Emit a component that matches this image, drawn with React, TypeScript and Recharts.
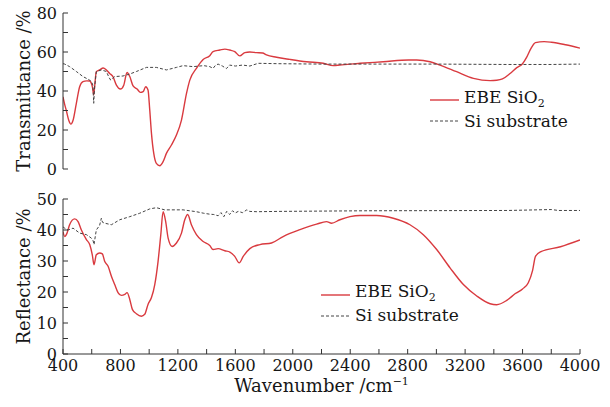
import React from 'react';
import { LineChart, Line, XAxis, YAxis, Legend } from 'recharts';

const FONT = '"DejaVu Serif", "Liberation Serif", serif';
const RED = '#d93a3f';
const GRAY = '#444';
const AXIS = '#333';
const TEXT = '#161616';

// ---- Data: Transmittance panel ----
const tWaveEBE = [400,412,423,440,455,470,493,516,539,565,586,597,605,614,620,632,655,680,702,725,748,772,800,823,846,865,888,916,939,958,976,992,1004,1016,1032,1050,1074,1097,1120,1155,1190,1225,1260,1283,1329,1376,1422,1445,1492,1527,1562,1596,1631,1666,1701,1748,1790,1817,1887,1980,2096,2212,2282,2328,2398,2468,2630,2806,2863,2956,3025,3141,3258,3374,3420,3460,3513,3560,3600,3630,3660,3690,3750,3800,3900,4000];
const tValEBE = [37,33,30,25,23,25,33.7,42.2,44.8,45.2,45.1,44,42,38,42,49.9,50.8,51.8,50.8,49,47.4,43,41,43,49.5,47.4,42.6,41,39.3,39.7,42.2,40.5,30.3,18.3,8,2.9,1.7,3.8,8,12.3,17.4,25.1,38.8,45.6,51.6,56.2,58.1,60.2,61,61.5,61,60.2,58,59.7,60,59.7,59.5,58.5,57.3,56.2,55,54.2,53,53.3,53.8,54.2,55,55.9,55.9,55,53.3,49.9,46.5,45.3,45.5,46.2,49,52,54,57.5,62,64.8,65.3,65,63.7,62];
const tWaveSi = [400,412,446,493,539,586,600,608,614,620,632,667,702,720,732,760,818,865,911,981,1050,1120,1190,1236,1306,1380,1422,1445,1462,1480,1510,1538,1560,1600,1650,1701,1759,1900,2200,2500,3000,3500,3800,4000];
const tValSi = [54,53.8,52.5,50,47.4,45.6,44.5,43,33.7,42,49.9,50.8,50,47,45.6,47.4,47.7,48.7,50,52.1,52.1,50.8,52.1,53,52.5,53,52.5,51.6,53.2,53.8,52.8,51.5,53.3,52.8,53.3,52.8,54.2,54,53.8,53.8,53.8,53.6,53.6,53.8];

// ---- Data: Reflectance panel ----
const rWaveEBE = [400,412,428,446,481,505,528,563,586,604,616,632,655,674,690,714,737,760,783,806,830,846,865,883,911,946,969,992,1016,1039,1062,1081,1097,1115,1132,1160,1190,1225,1248,1268,1294,1329,1376,1422,1445,1480,1527,1562,1596,1627,1655,1701,1771,1852,1933,2050,2166,2235,2270,2328,2398,2468,2584,2700,2816,2909,3002,3095,3188,3281,3374,3420,3490,3550,3600,3640,3670,3690,3728,3864,4000];
const rValEBE = [39.5,37.9,39,41.7,43.6,42.7,40,36.9,35.3,32,28.8,32,32.6,32.3,29.9,28.3,25.1,22.4,19.8,18.9,19.2,19.8,17.6,14.4,13,12.2,12.8,16,18.2,22.4,29.9,38.5,45.9,42.7,37.4,34.7,35.8,39,43.3,45,41.7,38.5,36.3,35,33.7,34,33.3,32.9,31.5,29.4,31.5,34,35.3,35.8,37.9,40.1,41.9,42.7,42.2,43.3,44.3,44.7,44.7,43.8,41.7,38.5,33.7,27.8,22.4,18.7,16.2,15.9,17.3,19.5,21,23,27,31.5,33,34.6,36.8];
const rWaveSi = [400,420,435,470,516,563,597,610,616,625,632,655,667,675,690,737,795,865,934,1004,1050,1108,1236,1329,1380,1422,1450,1480,1500,1520,1540,1560,1580,1600,1620,1650,1680,1700,1750,1900,2500,3500,3800,3850,4000];
const rValSi = [41,40.3,40,40.6,39,38.5,37.4,36.5,35.3,38,40,41.5,43.8,42.5,42.2,41.7,43.3,44.3,45.4,46.8,47.2,46.5,46.5,45.9,45.4,45.1,45,44.6,45.6,44.3,46,45,46.2,45.5,46,45.6,46.5,46,45.9,46,46.2,46.3,46.6,46.3,46.3];

const xTicks = [400,600,800,1000,1200,1400,1600,1800,2000,2200,2400,2600,2800,3000,3200,3400,3600,3800,4000];
const tTicks = [0,10,20,30,40,50,60,70,80];
const rTicks = [0,5,10,15,20,25,30,35,40,45,50];
const seriesNames = ['EBE SiO2', 'Si substrate'];

const zip = (w: number[], v: number[]) => w.map((x, i) => ({ w: x, v: v[i] }));
const tEBE = zip(tWaveEBE, tValEBE);
const tSi = zip(tWaveSi, tValSi);
const rEBE = zip(rWaveEBE, rValEBE);
const rSi = zip(rWaveSi, rValSi);

const tickStyle = { fill: TEXT, fontSize: 16, fontFamily: FONT };

const YLabel = (props: any) => {
  const { viewBox, text } = props;
  const cy = viewBox.y + viewBox.height / 2;
  const cx = 23;
  return (
    <text x={cx} y={cy} transform={`rotate(-90 ${cx} ${cy})`} textAnchor="middle" dominantBaseline="central"
      fill={TEXT} fontSize={18} fontFamily={FONT}>{text}</text>
  );
};

const XLabel = (props: any) => {
  const { viewBox } = props;
  const cx = viewBox.x + viewBox.width / 2;
  return (
    <text x={cx} y={viewBox.y + 38} textAnchor="middle" fill={TEXT} fontSize={18} fontFamily={FONT}>
      Wavenumber /cm<tspan dy={-7} fontSize={11}>−1</tspan>
    </text>
  );
};

const LegendContent = () => (
  <div style={{ fontFamily: FONT, fontSize: 17, color: TEXT, lineHeight: '21px' }}>
    {seriesNames.map((name, i) => (
      <div key={name} style={{ display: 'flex', alignItems: 'center', height: 21, whiteSpace: 'nowrap' }}>
        <svg width={30} height={10} style={{ marginRight: 4 }}>
          <line x1={0} y1={5} x2={29} y2={5} stroke={i === 0 ? RED : GRAY} strokeWidth={i === 0 ? 1.4 : 1}
            strokeDasharray={i === 0 ? undefined : '3 2'} />
        </svg>
        <span>{i === 0 ? <>EBE SiO<sub style={{ fontSize: 11, verticalAlign: -4 }}>2</sub></> : name}</span>
      </div>
    ))}
  </div>
);

const Panel = (p: {
  ebe: any[]; si: any[]; yDomain: number[]; yTicks: number[]; yMajor: number; yLabel: string;
  height: number; margin: any; showX: boolean; xHeight: number; legendPos: { left: number; top: number };
}) => (
  <LineChart width={610} height={p.height} margin={p.margin}>
    <XAxis dataKey="w" type="number" domain={[400, 4000]} ticks={xTicks} interval={0} allowDataOverflow
      tickSize={-5} tickMargin={11} height={p.xHeight} stroke={AXIS} tick={tickStyle}
      tickFormatter={(v: number) => (p.showX && v % 400 === 0 ? String(v) : '')}
      label={p.showX ? <XLabel /> : undefined} />
    <XAxis xAxisId="top" orientation="top" dataKey="w" type="number" domain={[400, 4000]} height={0}
      tick={false} tickLine={false} stroke={AXIS} />
    <YAxis type="number" domain={p.yDomain} ticks={p.yTicks} interval={0} allowDataOverflow width={63}
      tickSize={-5} tickMargin={11} stroke={AXIS} tick={tickStyle}
      tickFormatter={(v: number) => (v % p.yMajor === 0 ? String(v) : '')}
      label={<YLabel text={p.yLabel} />} />
    <YAxis yAxisId="right" orientation="right" type="number" domain={p.yDomain} width={0}
      tick={false} tickLine={false} stroke={AXIS} />
    <Legend layout="vertical" align="center" verticalAlign="middle" content={<LegendContent />}
      wrapperStyle={{ position: 'absolute', left: p.legendPos.left, top: p.legendPos.top, width: 'auto', height: 'auto' }} />
    <Line data={p.ebe} dataKey="v" name="EBE SiO2" stroke={RED} strokeWidth={1.4} dot={false}
      type="monotone" isAnimationActive={false} />
    <Line data={p.si} dataKey="v" name="Si substrate" stroke={GRAY} strokeWidth={1} strokeDasharray="3 2"
      dot={false} type="linear" isAnimationActive={false} />
  </LineChart>
);

export default function App() {
  return (
    <div style={{ position: 'absolute', left: 0, top: 0, width: 610, height: 407, background: '#fff' }}>
      <div style={{ position: 'absolute', left: 0, top: 0 }}>
        <Panel ebe={tEBE} si={tSi} yDomain={[0, 80]} yTicks={tTicks} yMajor={20} yLabel="Transmittance /%"
          height={190} margin={{ top: 13, right: 30, left: 0, bottom: 21 }} showX={false} xHeight={0}
          legendPos={{ left: 430, top: 89.5 }} />
      </div>
      <div style={{ position: 'absolute', left: 0, top: 190 }}>
        <Panel ebe={rEBE} si={rSi} yDomain={[0, 50]} yTicks={rTicks} yMajor={10} yLabel="Reflectance /%"
          height={217} margin={{ top: 9, right: 30, left: 0, bottom: 0 }} showX={true} xHeight={53}
          legendPos={{ left: 321, top: 94 }} />
      </div>
    </div>
  );
}
